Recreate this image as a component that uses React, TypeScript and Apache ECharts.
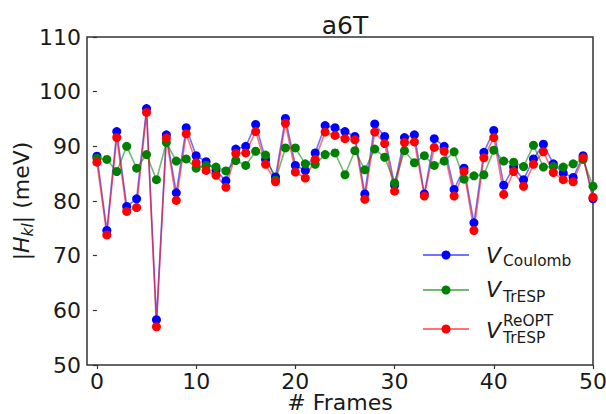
import React, { useEffect, useRef } from "react";
import * as echarts from "echarts";

// Frame index for every sample
const frames = [
  0, 1, 2, 3, 4, 5, 6, 7, 8, 9, 10, 11, 12, 13, 14, 15, 16, 17, 18, 19, 20,
  21, 22, 23, 24, 25, 26, 27, 28, 29, 30, 31, 32, 33, 34, 35, 36, 37, 38, 39,
  40, 41, 42, 43, 44, 45, 46, 47, 48, 49, 50,
];

// |H_kl| couplings in meV
const vCoulomb = [
  88.2, 74.6, 92.7, 79.0, 80.4, 96.9, 58.3, 92.1, 81.5, 93.4, 88.3, 87.2, 85.6,
  83.7, 89.5, 90.0, 94.0, 87.6, 84.4, 95.1, 86.5, 85.6, 88.8, 93.8, 93.4, 92.7,
  91.8, 81.3, 94.1, 91.8, 82.9, 91.6, 92.1, 81.3, 91.4, 90.0, 82.1, 86.0, 76.0,
  88.9, 92.9, 82.9, 86.2, 83.9, 87.7, 90.4, 86.8, 85.1, 84.3, 88.3, 80.4,
];
const vTrESP = [
  87.8, 87.6, 85.4, 90.0, 86.0, 88.5, 83.9, 90.7, 87.3, 87.7, 86.0, 86.5, 86.2,
  85.5, 87.4, 86.5, 89.1, 88.4, 83.8, 89.7, 89.7, 86.8, 86.7, 88.5, 88.8, 84.8,
  89.2, 85.7, 89.5, 88.0, 83.3, 89.2, 87.0, 88.3, 86.5, 87.3, 89.0, 84.0, 84.6,
  84.8, 89.3, 87.3, 87.1, 86.3, 90.2, 86.2, 86.3, 86.2, 86.8, 87.6, 82.7,
];
const vTrESPReOpt = [
  87.1, 73.8, 91.6, 78.1, 78.8, 96.2, 57.0, 91.5, 80.1, 92.3, 87.0, 85.6, 84.7,
  82.5, 88.7, 88.8, 92.7, 86.7, 83.5, 94.2, 85.3, 84.2, 87.6, 92.6, 92.0, 91.4,
  91.2, 80.3, 92.6, 90.5, 81.8, 90.7, 90.8, 80.9, 89.8, 89.1, 80.9, 85.4, 74.6,
  87.9, 91.6, 81.2, 85.4, 82.7, 86.7, 89.0, 85.2, 83.9, 83.5, 87.9, 80.7,
];

const xTicks = [0, 10, 20, 30, 40, 50];
const yTicks = [50, 60, 70, 80, 90, 100, 110];

const FONT = "'DejaVu Sans', 'Liberation Sans', sans-serif";
const INK = "#1a1a1a";
const BLUE = "#0000ff";
const GREEN = "#008000";
const RED = "#ff0000";

let measureCtx: CanvasRenderingContext2D | null = null;
function textWidth(text: string, size: number, italic: boolean): number {
  if (!measureCtx) measureCtx = document.createElement("canvas").getContext("2d");
  if (!measureCtx) return text.length * size * 0.6;
  measureCtx.font = `${italic ? "italic " : ""}${size}px ${FONT}`;
  return measureCtx.measureText(text).width;
}

// text element positioned by its alphabetic baseline
function txt(text: string, x: number, baseline: number, size: number, italic = false, align = "left") {
  return {
    type: "text",
    x,
    y: baseline - size * 0.36,
    silent: true,
    style: {
      text,
      fontSize: size,
      fontFamily: FONT,
      fontStyle: italic ? "italic" : "normal",
      fill: INK,
      align,
      textAlign: align,
      verticalAlign: "middle",
      textVerticalAlign: "middle",
    },
  };
}

function legendRow(color: string, cy: number) {
  return [
    {
      type: "line",
      silent: true,
      shape: { x1: 423, y1: cy, x2: 469, y2: cy },
      style: { stroke: color, lineWidth: 2, opacity: 0.55 },
    },
    {
      type: "circle",
      silent: true,
      shape: { cx: 446, cy, r: 4.5 },
      style: { fill: color },
    },
  ];
}

function yLabel() {
  // "|H_kl| (meV)" laid out along the rotated baseline
  const big = 22;
  const small = 15.4;
  const parts: any[] = [];
  let x = 0;
  const push = (t: string, size: number, italic: boolean, dy: number) => {
    parts.push(txt(t, x, dy, size, italic));
    x += textWidth(t, size, italic);
  };
  push("|", big, false, 0);
  push("H", big, true, 0);
  push("kl", small, true, 4.5);
  push("|", big, false, 0);
  push(" (meV)", big, false, 0);
  const total = x;
  return {
    type: "group",
    x: 29,
    y: 201 + total / 2,
    rotation: Math.PI / 2,
    children: parts,
  };
}

export default function App() {
  const ref = useRef<HTMLDivElement>(null);

  useEffect(() => {
    if (!ref.current) return;
    const chart = echarts.init(ref.current, undefined, { renderer: "svg" });

    const pairs = (vals: number[]) => frames.map((f, i) => [f, vals[i]]);
    const series = [
      { name: "V_Coulomb", color: BLUE, vals: vCoulomb },
      { name: "V_TrESP", color: GREEN, vals: vTrESP },
      { name: "V_TrESP^ReOPT", color: RED, vals: vTrESPReOpt },
    ].map((s) => ({
      type: "line",
      name: s.name,
      data: pairs(s.vals),
      symbol: "circle",
      symbolSize: 9,
      showSymbol: true,
      clip: true,
      itemStyle: { color: s.color },
      lineStyle: { color: s.color, width: 1.6, opacity: 0.55 },
      emphasis: { disabled: true },
    }));

    chart.setOption({
      animation: false,
      backgroundColor: "#ffffff",
      title: {
        text: "a6T",
        left: 340,
        top: 8,
        textAlign: "center",
        textStyle: { fontSize: 25, fontWeight: "normal", fontFamily: FONT, color: INK },
      },
      grid: {
        left: 87,
        right: 13,
        top: 37,
        bottom: 49,
        outerBoundsMode: "none",
        containLabel: false,
        show: true,
        borderColor: "#333333",
        borderWidth: 1.5,
        backgroundColor: "transparent",
      },
      xAxis: {
        type: "value",
        min: -1,
        max: 50,
        name: "# Frames",
        nameLocation: "middle",
        nameGap: 28,
        nameMoveOverlap: false,
        nameTextStyle: { fontSize: 22, lineHeight: 18, fontFamily: FONT, color: INK },
        axisLine: { show: false },
        axisTick: {
          show: true,
          length: 4,
          customValues: xTicks,
          lineStyle: { color: "#333333", width: 1.2 },
        },
        axisLabel: {
          customValues: xTicks,
          fontSize: 22,
          lineHeight: 18,
          fontFamily: FONT,
          color: INK,
          margin: 7,
        },
        splitLine: { show: false },
      },
      yAxis: {
        type: "value",
        min: yTicks[0],
        max: yTicks[yTicks.length - 1],
        interval: 10,
        axisLine: { show: false },
        axisTick: { show: true, length: 4, lineStyle: { color: "#333333", width: 1.2 } },
        axisLabel: { fontSize: 22, fontFamily: FONT, color: INK, margin: 6 },
        splitLine: { show: false },
      },
      series,
      graphic: [
        yLabel(),
        ...legendRow(BLUE, 255),
        ...legendRow(GREEN, 290),
        ...legendRow(RED, 329),
        txt("V", 486, 263, 22, true),
        txt("Coulomb", 503, 266.5, 15.4),
        txt("V", 486, 297, 22, true),
        txt("TrESP", 503, 302.5, 15.4),
        txt("V", 486, 338, 22, true),
        txt("ReOPT", 503, 327, 15.4),
        txt("TrESP", 503, 343.3, 15.4),
      ],
    });

    return () => chart.dispose();
  }, []);

  return (
    <div
      ref={ref}
      style={{ position: "fixed", left: 0, top: 0, width: 606, height: 414, background: "#fff" }}
    />
  );
}
